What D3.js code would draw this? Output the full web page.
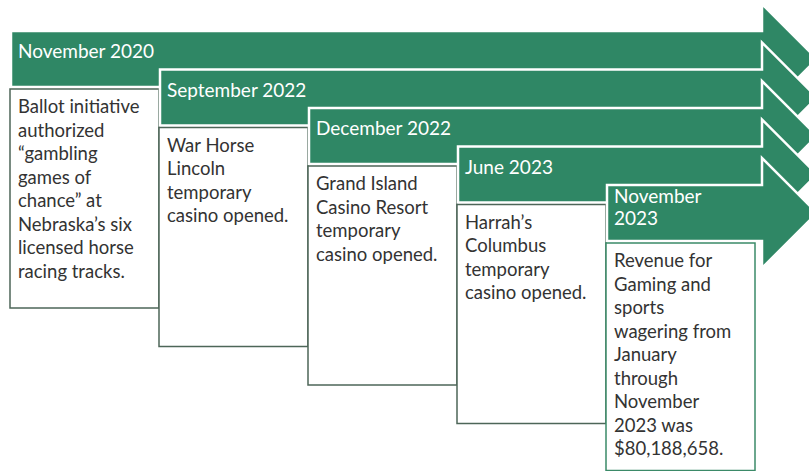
<!DOCTYPE html>
<html>
<head>
<meta charset="utf-8">
<script src="https://cdn.jsdelivr.net/npm/d3@7"></script>
<style>
  body { margin: 0; background: #fff; }
  svg { display: block; }
</style>
</head>
<body>
<div id="timeline"></div>
<script>
// timeline data
var dates = [
  ["November 2020"],
  ["September 2022"],
  ["December 2022"],
  ["June 2023"],
  ["November", "2023"]
];

var descriptions = [
  ["Ballot initiative", "authorized", "\u201cgambling", "games of", "chance\u201d at", "Nebraska\u2019s six", "licensed horse", "racing tracks."],
  ["War Horse", "Lincoln", "temporary", "casino opened."],
  ["Grand Island", "Casino Resort", "temporary", "casino opened."],
  ["Harrah\u2019s", "Columbus", "temporary", "casino opened."],
  ["Revenue for", "Gaming and", "sports", "wagering from", "January", "through", "November", "2023 was", "$80,188,658."]
];

var steps = d3.range(dates.length);

// svg
var svgWidth = 809;
var svgHeight = 471;

var svg = d3.select("#timeline")
  .append("svg")
  .attr("width", svgWidth)
  .attr("height", svgHeight);

var green = "#2f8765";
var font = "Lato, 'Open Sans', sans-serif";

// scales for each step
var xScale = d3.scaleLinear().domain([0, 4]).range([11, 607]);
var yScale = d3.scaleLinear().domain([0, 4]).range([31, 185]);

var colW = xScale(1) - xScale(0);
var barH = 56;
var headX = 762;
var headExtra = 27;
var lineH = 23.5;
var boxMinH = 219;

// arrow shape
function arrowPath(i) {
  var x = xScale(i), t = yScale(i), b = t + barH;
  var mid = (t + b) / 2;
  var half = barH / 2 + headExtra;
  return "M" + x + "," + t +
    "L" + headX + "," + t +
    "L" + headX + "," + (mid - half) +
    "L" + (headX + half) + "," + mid +
    "L" + headX + "," + (mid + half) +
    "L" + headX + "," + b +
    "L" + x + "," + b + "Z";
}

var groups = svg.selectAll("g.step")
  .data(steps)
  .enter()
  .append("g")
  .attr("class", "step");

groups.append("path")
  .attr("d", d => arrowPath(d))
  .attr("fill", green)
  .attr("stroke", "#fff")
  .attr("stroke-width", 2.5)
  .attr("stroke-linejoin", "miter");

// date labels
groups.each(function(d) {
  var g = d3.select(this);
  var first = dates[d].length > 1 ? 18 : 27;
  g.append("text")
    .attr("x", xScale(d) + 7)
    .attr("y", yScale(d) + first)
    .attr("fill", "#fff")
    .attr("font-family", font)
    .attr("font-size", "19px")
    .selectAll("tspan")
    .data(dates[d])
    .enter()
    .append("tspan")
    .attr("x", xScale(d) + 7)
    .attr("dy", (s, j) => j === 0 ? 0 : 22)
    .text(s => s);
});

// description boxes
groups.append("rect")
  .attr("x", d => xScale(d) - 1)
  .attr("y", d => yScale(d) + barH + 2)
  .attr("width", colW)
  .attr("height", d => Math.max(boxMinH, descriptions[d].length * lineH + 16))
  .attr("fill", "#fff")
  .attr("stroke", (d, i) => i === 4 ? "#3b8a68" : "#4d6658")
  .attr("stroke-width", 1.5);

groups.each(function(d) {
  var g = d3.select(this);
  g.append("text")
    .attr("x", xScale(d) + 7)
    .attr("y", yScale(d) + barH + 2 + 24)
    .attr("fill", "#333")
    .attr("font-family", font)
    .attr("font-size", "18.5px")
    .selectAll("tspan")
    .data(descriptions[d])
    .enter()
    .append("tspan")
    .attr("x", xScale(d) + 7)
    .attr("dy", (s, j) => j === 0 ? 0 : lineH)
    .text(s => s);
});
</script>
</body>
</html>
